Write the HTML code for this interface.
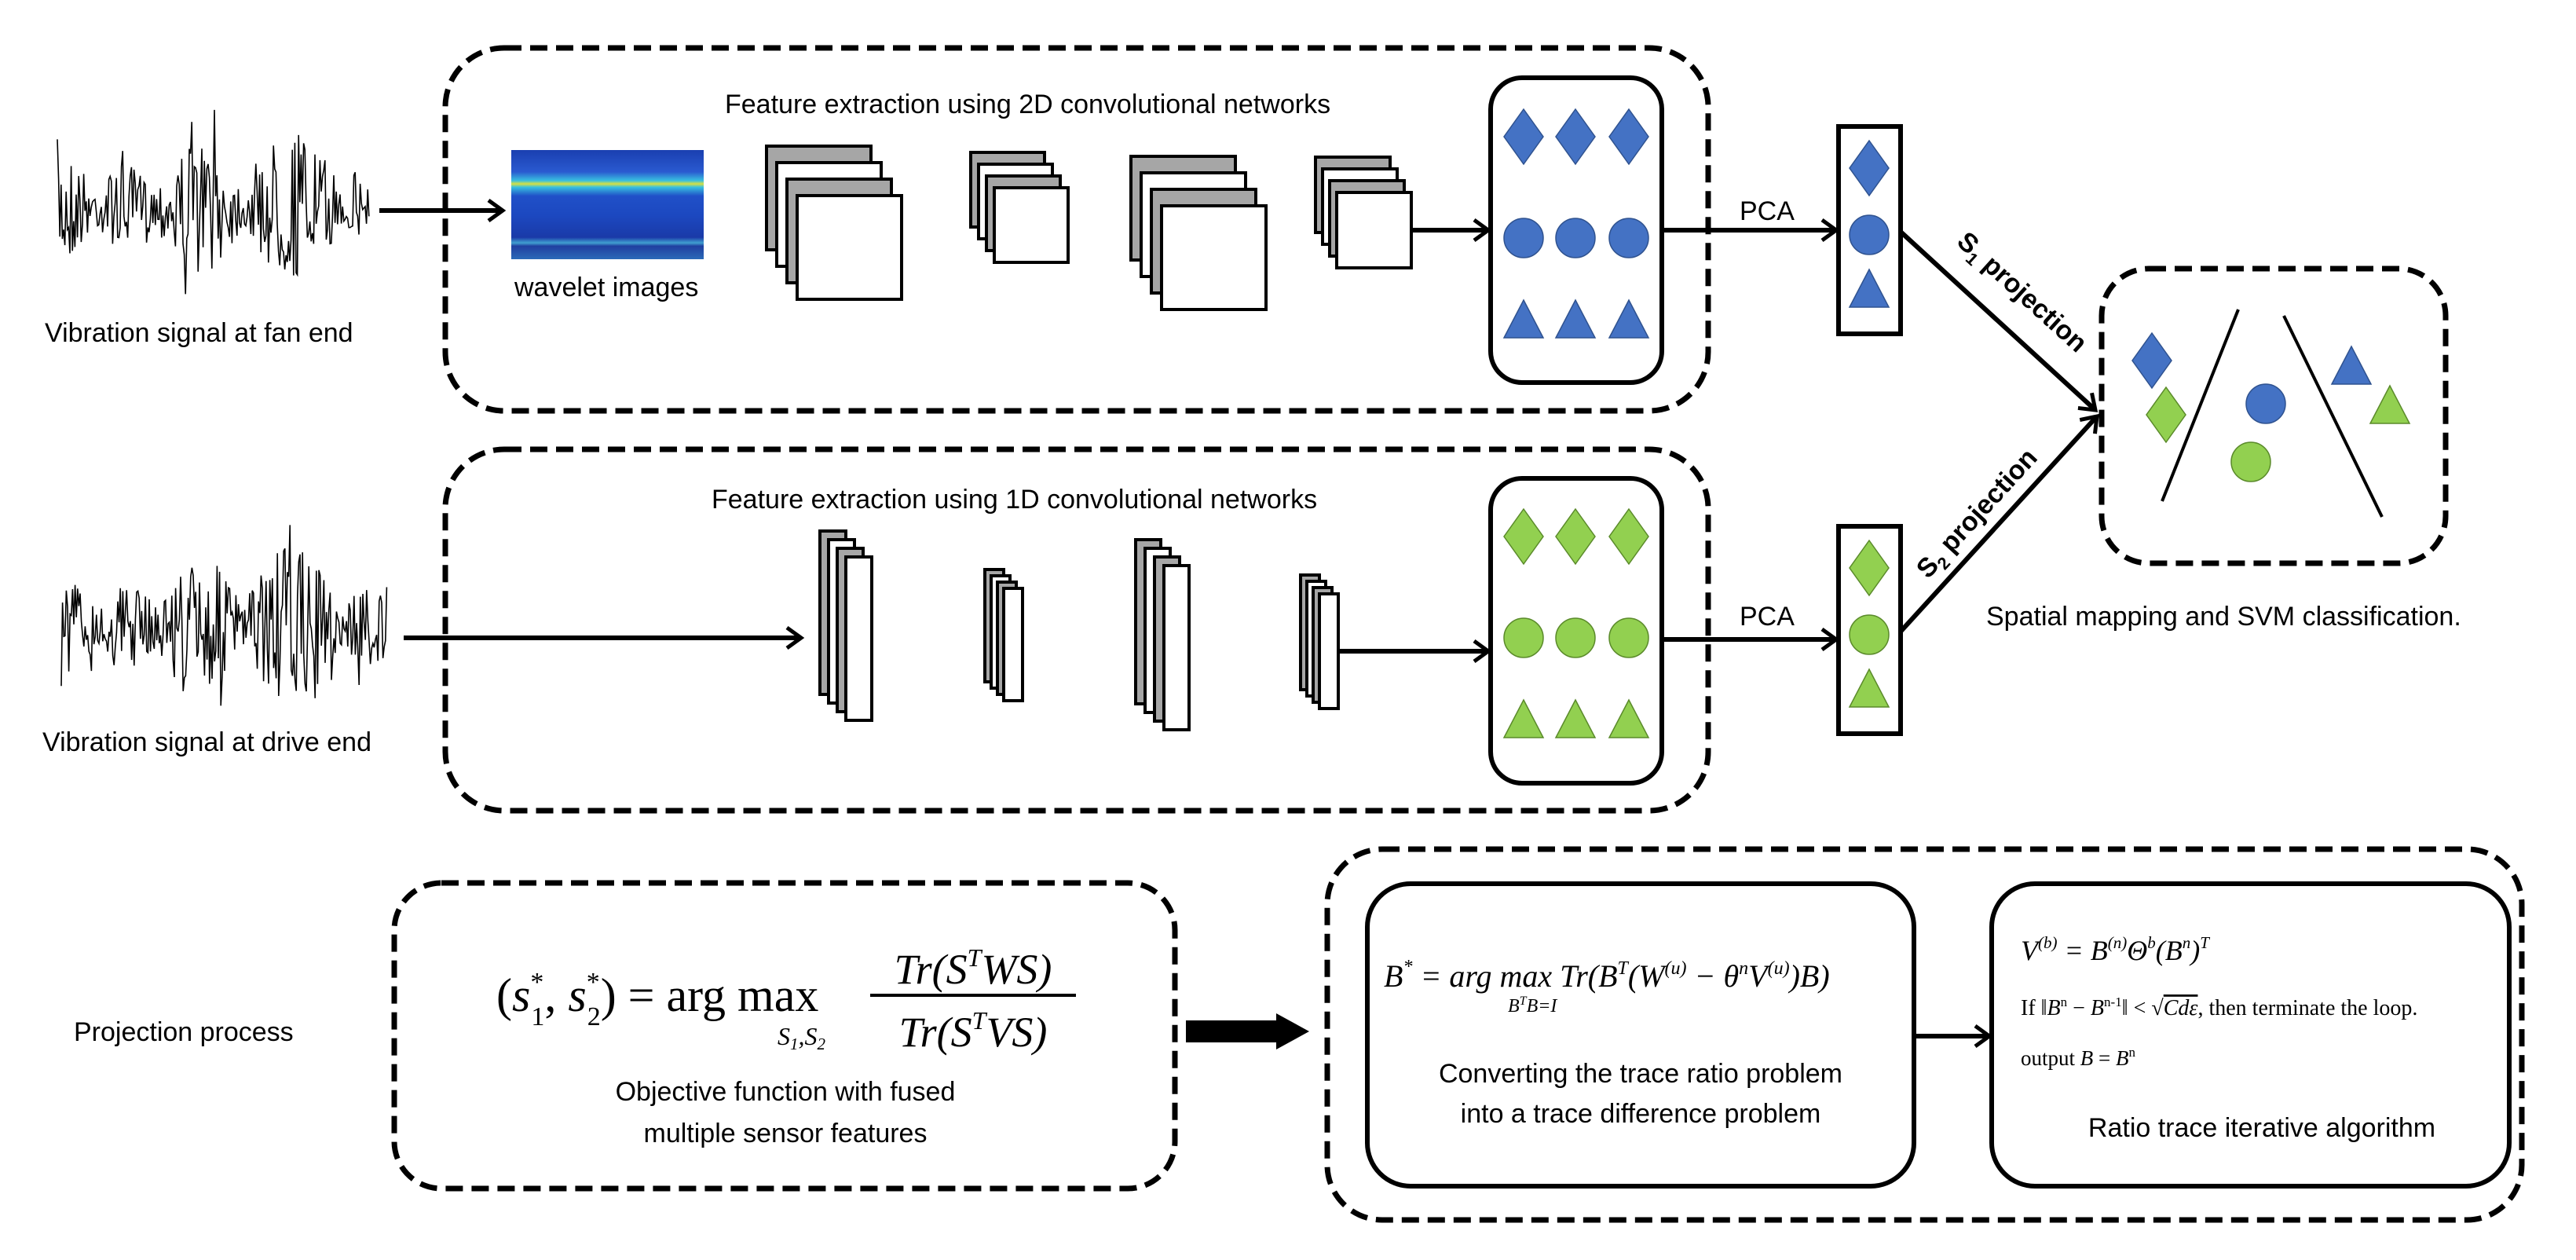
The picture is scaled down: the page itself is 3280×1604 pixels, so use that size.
<!DOCTYPE html>
<html><head><meta charset="utf-8"><style>
html,body{margin:0;padding:0;background:#fff;}
svg{display:block;}
.t{font-family:"Liberation Sans",sans-serif;font-size:34px;fill:#000;}
.m{font-family:"Liberation Serif",serif;font-style:italic;fill:#000;}
.r{font-family:"Liberation Serif",serif;fill:#000;}
</style></head><body>
<svg id="s" width="3280" height="1604" viewBox="0 0 3280 1604" xmlns="http://www.w3.org/2000/svg">
<defs>
<linearGradient id="wv" x1="0" y1="0" x2="0" y2="1">
<stop offset="0" stop-color="#1a3fb0"/><stop offset="0.2" stop-color="#2a5ad0"/>
<stop offset="0.28" stop-color="#38c0e0"/><stop offset="0.31" stop-color="#d8e040"/><stop offset="0.34" stop-color="#38c0e0"/>
<stop offset="0.42" stop-color="#2050c8"/><stop offset="0.6" stop-color="#1c48c0"/><stop offset="0.8" stop-color="#1a3aa8"/>
<stop offset="0.85" stop-color="#40a0d0"/><stop offset="0.88" stop-color="#2040a0"/><stop offset="1" stop-color="#2a6ab8"/>
</linearGradient>
<marker id="ah" markerWidth="10" markerHeight="10" refX="8" refY="5" orient="auto" markerUnits="userSpaceOnUse" viewBox="0 0 10 10" style="overflow:visible">
<path d="M-10,-8 L8,5 L-10,18" fill="none" stroke="#000" stroke-width="5"/>
</marker>
</defs>
<g fill="none" stroke="#000" stroke-width="7" stroke-dasharray="22,11">
<rect x="567" y="61" width="1608" height="462" rx="75"/>
<rect x="567" y="572" width="1608" height="460" rx="75"/>
<rect x="2676" y="342" width="438" height="375" rx="60"/>
<rect x="502" y="1124" width="994" height="389" rx="60"/>
<rect x="1690" y="1081" width="1521" height="472" rx="70"/>
</g>
<g fill="none" stroke="#000" stroke-width="6">
<rect x="1898" y="99" width="218" height="388" rx="40"/>
<rect x="1898" y="609" width="218" height="388" rx="40"/>
<rect x="2341" y="161" width="79" height="264"/>
<rect x="2341" y="670" width="79" height="264"/>
<rect x="1741" y="1125" width="696" height="385" rx="55"/>
<rect x="2536" y="1125" width="659" height="385" rx="55"/>
</g>
<rect x="651" y="191" width="245" height="139" fill="url(#wv)"/>
<g id="stacks"></g>
<g id="waves" fill="none" stroke="#000" stroke-width="1.6"></g>
<g stroke="#000" stroke-width="6" fill="none">
<line x1="483" y1="268" x2="640" y2="268" marker-end="url(#ah)"/>
<line x1="514" y1="812" x2="1020" y2="812" marker-end="url(#ah)"/>
<line x1="1797" y1="293" x2="1895" y2="293" marker-end="url(#ah)"/>
<line x1="1703" y1="829" x2="1895" y2="829" marker-end="url(#ah)"/>
<line x1="2116" y1="293" x2="2338" y2="293" marker-end="url(#ah)"/>
<line x1="2116" y1="814" x2="2338" y2="814" marker-end="url(#ah)"/>
<line x1="2420" y1="295" x2="2668" y2="522" marker-end="url(#ah)"/>
<line x1="2420" y1="804" x2="2670" y2="530" marker-end="url(#ah)"/>
<line x1="2437" y1="1319" x2="2533" y2="1319" marker-end="url(#ah)"/>
</g>
<polygon points="1510,1299 1625,1299 1625,1290 1667,1313 1625,1336 1625,1327 1510,1327" fill="#000"/>
<g stroke="#000" stroke-width="4">
<line x1="2850" y1="394" x2="2753" y2="638"/>
<line x1="2908" y1="402" x2="3033" y2="658"/>
</g>
<g id="shapes"></g>
<text class="t" x="923" y="144">Feature extraction using 2D convolutional networks</text>
<text class="t" x="906" y="647">Feature extraction using 1D convolutional networks</text>
<text class="t" x="57" y="435">Vibration signal at fan end</text>
<text class="t" x="54" y="956">Vibration signal at drive end</text>
<text class="t" x="655" y="377">wavelet images</text>
<text class="t" x="2215" y="280">PCA</text>
<text class="t" x="2215" y="796">PCA</text>
<text class="t" x="2529" y="796">Spatial mapping and SVM classification.</text>
<text class="t" transform="translate(2490,310) rotate(42.2)" font-weight="bold">S<tspan font-size="22" dy="8">1</tspan><tspan dy="-8"> projection</tspan></text>
<text class="t" transform="translate(2455,738) rotate(-47.6)" font-weight="bold">S<tspan font-size="22" dy="8">2</tspan><tspan dy="-8"> projection</tspan></text>
<text class="t" x="94" y="1325">Projection process</text>
<text class="t" x="1000" y="1401" text-anchor="middle">Objective function with fused</text>
<text class="t" x="1000" y="1454" text-anchor="middle">multiple sensor features</text>
<text class="t" x="2089" y="1378" text-anchor="middle">Converting the trace ratio problem</text>
<text class="t" x="2089" y="1429" text-anchor="middle">into a trace difference problem</text>
<text class="t" x="2880" y="1447" text-anchor="middle">Ratio trace iterative algorithm</text>
<!-- formula 1 -->
<text class="r" x="632" y="1287" font-size="60">(<tspan class="m">s</tspan><tspan font-size="34" dy="-26">*</tspan><tspan font-size="34" dx="-16" dy="44">1</tspan><tspan dy="-18">, </tspan><tspan class="m">s</tspan><tspan font-size="34" dy="-26">*</tspan><tspan font-size="34" dx="-16" dy="44">2</tspan><tspan dy="-18">) = arg max</tspan></text>
<text class="m" x="990" y="1330" font-size="32">S<tspan font-size="21" dy="6">1</tspan><tspan dy="-6">,S</tspan><tspan font-size="21" dy="6">2</tspan></text>
<line x1="1108" y1="1267" x2="1370" y2="1267" stroke="#000" stroke-width="4"/>
<text class="m" x="1239" y="1252" font-size="54" text-anchor="middle">Tr(S<tspan font-size="32" dy="-22">T</tspan><tspan dy="22">WS)</tspan></text>
<text class="m" x="1239" y="1332" font-size="54" text-anchor="middle">Tr(S<tspan font-size="32" dy="-22">T</tspan><tspan dy="22">VS)</tspan></text>
<!-- formula 2 -->
<text class="m" x="1762" y="1256" font-size="40">B<tspan font-size="24" dy="-18">*</tspan><tspan class="r" dy="18"> = arg max </tspan>Tr(B<tspan font-size="24" dy="-16">T</tspan><tspan dy="16">(W</tspan><tspan font-size="24" dy="-16">(u)</tspan><tspan dy="16"> − θ</tspan><tspan font-size="24" dy="-16">n</tspan><tspan dy="16">V</tspan><tspan font-size="24" dy="-16">(u)</tspan><tspan dy="16">)B)</tspan></text>
<text class="m" x="1920" y="1288" font-size="24">B<tspan font-size="16" dy="-9">T</tspan><tspan dy="9">B=I</tspan></text>
<!-- formula 3 -->
<text class="m" x="2573" y="1222" font-size="36">V<tspan font-size="21" dy="-15">(b)</tspan><tspan class="r" dy="15"> = </tspan>B<tspan font-size="21" dy="-15">(n)</tspan><tspan class="r" dy="15">Θ</tspan><tspan font-size="21" dy="-15">b</tspan><tspan dy="15">(B</tspan><tspan font-size="21" dy="-15">n</tspan><tspan dy="15">)</tspan><tspan font-size="21" dy="-15">T</tspan></text>
<text class="r" x="2573" y="1292" font-size="28">If ‖<tspan class="m">B</tspan><tspan font-size="17" dy="-11">n</tspan><tspan dy="11"> − </tspan><tspan class="m">B</tspan><tspan font-size="17" dy="-11">n-1</tspan><tspan dy="11">‖ &lt; √</tspan><tspan class="m" text-decoration="overline">Cdε</tspan>,  then terminate the loop.</text>
<text class="r" x="2573" y="1356" font-size="27">output  <tspan class="m">B</tspan> = <tspan class="m">B</tspan><tspan font-size="17" dy="-11">n</tspan></text>
</svg>
<script>
(function(){
var NS="http://www.w3.org/2000/svg";
function el(p,t,a){var e=document.createElementNS(NS,t);for(var k in a)e.setAttribute(k,a[k]);p.appendChild(e);return e;}
var st=document.getElementById("stacks");
function stack(x,y,w,h,dx,dy){for(var i=0;i<4;i++)el(st,"rect",{x:x+i*dx,y:y+i*dy,width:w,height:h,fill:i%2?"#fff":"#a6a6a6",stroke:"#000","stroke-width":4});}
stack(976,186,133,132,13,21);stack(1236,194,94,95,10,15);stack(1440,199,133,132,13,21);stack(1675,200,95,96,9,15);
stack(1044,676,33,208,11,11);stack(1254,725,24,143,8,8);stack(1446,687,32,209,12,11);stack(1656,732,24,146,8,8);
var wv=document.getElementById("waves");
var seed=7;function rnd(){seed=(seed*16807)%2147483647;return seed/2147483647;}
function wave(x0,x1,yc,amp){var pts=[];for(var x=x0;x<=x1;x+=1.6){var a=amp*(0.35+0.65*Math.abs(Math.sin(x*0.03)+0.5*Math.sin(x*0.011)))/1.3;var v=(rnd()*2-1)*a;if(rnd()<0.04)v*=1.6;pts.push(x.toFixed(1)+","+(yc+v).toFixed(1));}el(wv,"polyline",{points:pts.join(" ")});}
wave(73,471,263,100);wave(78,494,798,105);
var sh=document.getElementById("shapes");
var B="#4472C4",G="#92D050";
function sc(c){return c==B?"#2f528f":"#5a8a2a";}
function dia(cx,cy,c){el(sh,"polygon",{points:(cx)+","+(cy-35)+" "+(cx+25)+","+cy+" "+cx+","+(cy+35)+" "+(cx-25)+","+cy,fill:c,stroke:sc(c),"stroke-width":1.5});}
function cir(cx,cy,c){el(sh,"ellipse",{cx:cx,cy:cy,rx:25,ry:25,fill:c,stroke:sc(c),"stroke-width":1.5});}
function tri(cx,cy,c){el(sh,"polygon",{points:cx+","+(cy-24)+" "+(cx+25)+","+(cy+24)+" "+(cx-25)+","+(cy+24),fill:c,stroke:sc(c),"stroke-width":1.5});}
[1940,2006,2074].forEach(function(x){dia(x,174,B);cir(x,303,B);tri(x,406,B);dia(x,683,G);cir(x,812,G);tri(x,915,G);});
dia(2380,214,B);cir(2380,299,B);tri(2380,367,B);
dia(2380,723,G);cir(2380,808,G);tri(2380,876,G);
dia(2740,459,B);dia(2758,528,G);cir(2885,514,B);cir(2866,588,G);tri(2994,465,B);tri(3043,515,G);
})();
</script>
</body></html>
